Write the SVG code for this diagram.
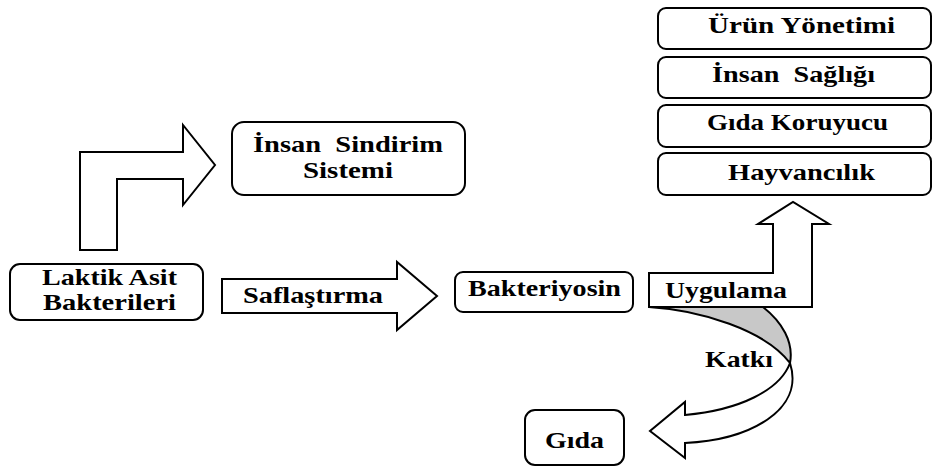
<svg xmlns="http://www.w3.org/2000/svg" width="933" height="467" viewBox="0 0 933 467">
<style>
.box{fill:#fff;stroke:#000;stroke-width:2}
.arr{fill:#fff;stroke:#000;stroke-width:2;stroke-linejoin:miter}
.gray{fill:#c8c8c8;stroke:#000;stroke-width:2}
.t{font-family:'Liberation Serif','Times New Roman',serif;font-weight:bold;font-size:23px;fill:#000;white-space:pre}
</style>
<rect width="933" height="467" fill="#fff"/>
<g id="connectors">
  <polygon class="arr" points="80,250 80,152 183,152 183,125 215,165 183,205 183,179 117,179 117,250"/>
  <polygon class="arr" points="222,279 397,279 397,262 437,296 397,330 397,313 222,313"/>
  <text class="t" x="243" y="303" textLength="140" lengthAdjust="spacingAndGlyphs">Saflaştırma</text>
  <polygon class="arr" points="649,307 649,273 773,273 773,224 758,224 793,202 829,224 812,224 812,307"/>
  <text class="t" x="665" y="298" textLength="122" lengthAdjust="spacingAndGlyphs">Uygulama</text>
  <path class="gray" d="M649,307 L763,307 C782,322 794,342 790,363 C765,330 700,310 649,307 Z"/>
  <path class="arr" d="M790,363 C780,390 740,410 685,415 L685,402 L650,431 L685,458 L685,443 C750,440 805,410 790,363 Z"/>
  <text class="t" x="705" y="367" textLength="68" lengthAdjust="spacingAndGlyphs">Katkı</text>
</g>
<g id="laktik">
  <rect class="box" x="10" y="264" width="193" height="56" rx="10"/>
  <text class="t" x="42" y="285" textLength="135" lengthAdjust="spacingAndGlyphs">Laktik Asit</text>
  <text class="t" x="43" y="310" textLength="133" lengthAdjust="spacingAndGlyphs">Bakterileri</text>
</g>
<g id="sindirim">
  <rect class="box" x="232" y="122" width="233" height="73" rx="12"/>
  <text class="t" x="253" y="152" textLength="190" lengthAdjust="spacingAndGlyphs" xml:space="preserve">İnsan  Sindirim</text>
  <text class="t" x="303" y="178" textLength="90" lengthAdjust="spacingAndGlyphs">Sistemi</text>
</g>
<g id="bakteriyosin">
  <rect class="box" x="455" y="272" width="178" height="40" rx="8"/>
  <text class="t" x="468" y="296" textLength="153" lengthAdjust="spacingAndGlyphs">Bakteriyosin</text>
</g>
<g id="gida">
  <rect class="box" x="525" y="410" width="99" height="55" rx="10"/>
  <text class="t" x="545" y="448" textLength="59" lengthAdjust="spacingAndGlyphs">Gıda</text>
</g>
<g id="urun">
  <rect class="box" x="658" y="8" width="273" height="41" rx="8"/>
  <text class="t" x="708" y="33" textLength="187" lengthAdjust="spacingAndGlyphs">Ürün Yönetimi</text>
</g>
<g id="saglik">
  <rect class="box" x="658" y="57" width="273" height="41" rx="8"/>
  <text class="t" x="712" y="82" textLength="163" lengthAdjust="spacingAndGlyphs" xml:space="preserve">İnsan  Sağlığı</text>
</g>
<g id="koruyucu">
  <rect class="box" x="658" y="105" width="273" height="42" rx="8"/>
  <text class="t" x="707" y="130" textLength="181" lengthAdjust="spacingAndGlyphs">Gıda Koruyucu</text>
</g>
<g id="hayvancilik">
  <rect class="box" x="658" y="153" width="273" height="42" rx="8"/>
  <text class="t" x="728" y="180" textLength="147" lengthAdjust="spacingAndGlyphs">Hayvancılık</text>
</g>
</svg>
